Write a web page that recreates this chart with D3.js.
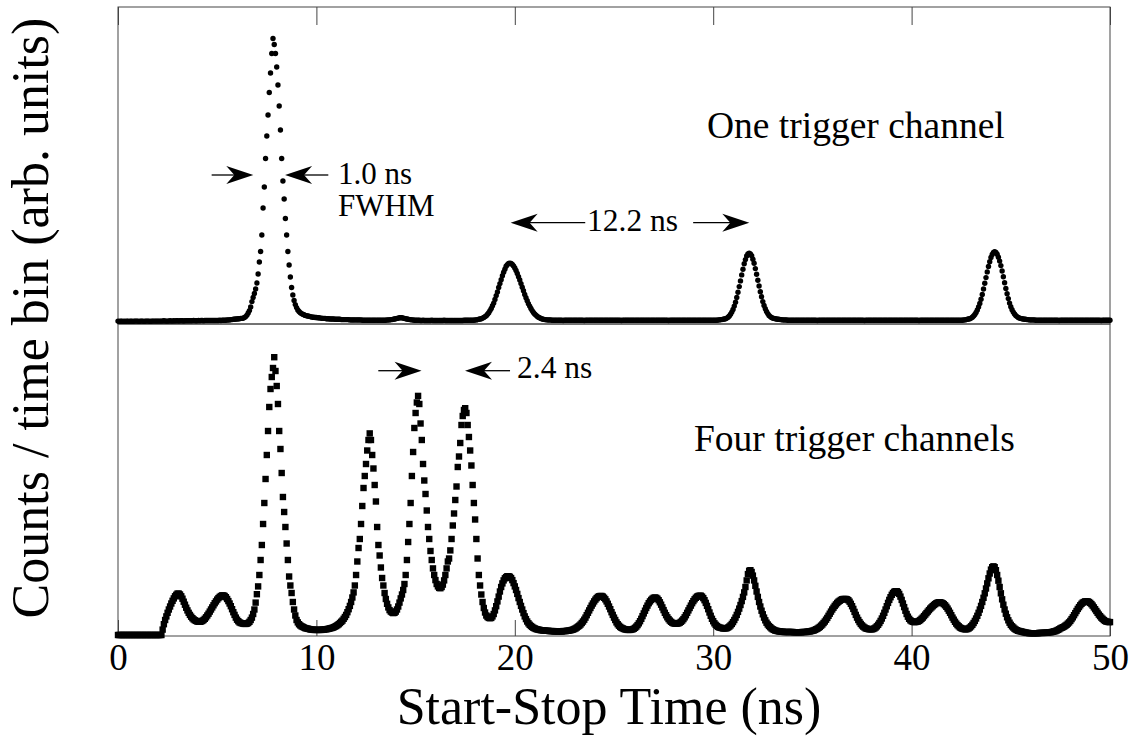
<!DOCTYPE html>
<html>
<head>
<meta charset="utf-8">
<script src="https://cdn.jsdelivr.net/npm/d3@7"></script>
<style>
  body { margin: 0; background: #fff; }
  svg { display: block; }
  text { font-family: "Liberation Serif", "Times New Roman", serif; fill: #000; }
</style>
</head>
<body>
<svg id="chart" width="1132" height="749"></svg>
<script>
// ---------------- data ----------------
const xTicks = [0, 10, 20, 30, 40, 50];
const xTickLabels = ["0", "10", "20", "30", "40", "50"];
const xLabel = "Start-Stop Time (ns)";
const yLabel = "Counts / time bin (arb. units)";
const binWidth = 0.0625; // ns per time bin; each row below holds 1 ns (16 bins)

// One trigger channel (top panel), counts per bin
const oneChannelCounts = [
  [3,2,3,3,2,3,2,3,3,2,3,3,2,3,3,3],
  [3,2,3,3,3,2,3,3,3,3,2,3,3,3,3,3],
  [3,3,3,3,3,4,3,3,3,3,4,3,3,4,3,4],
  [4,3,4,4,4,3,4,4,4,4,4,4,4,5,4,4],
  [4,5,4,5,5,4,5,5,5,5,5,5,5,5,5,5],
  [5,5,6,5,6,6,6,6,7,7,7,8,8,9,9,10],
  [10,11,11,12,12,13,15,18,23,30,38,50,68,82,95,110],
  [130,160,200,235,290,380,450,545,620,690,765,830,895,945,925,895],
  [850,790,720,640,545,470,410,345,290,235,190,150,115,90,72,58],
  [48,40,35,31,28,26,24,22,21,20,19,18,17,16,16,15],
  [15,14,14,13,13,12,12,12,11,11,11,10,10,10,10,9],
  [9,9,9,9,8,8,8,8,8,8,8,7,7,7,7,7],
  [7,7,7,7,7,6,6,6,6,6,6,6,6,6,6,6],
  [6,6,6,6,6,6,6,6,6,7,7,7,8,8,9,10],
  [11,12,13,14,14,14,13,12,11,10,9,8,8,7,7,6],
  [6,6,6,6,5,5,6,5,5,5,5,5,5,6,5,5],
  [5,5,5,5,5,5,5,6,5,5,5,5,5,5,5,5],
  [5,5,5,5,5,5,5,6,6,6,6,6,6,6,6,6],
  [7,7,8,9,10,11,13,15,18,21,26,31,38,45,54,63],
  [75,88,100,115,128,141,154,166,176,186,191,195,196,195,192,187],
  [180,172,162,151,140,128,116,104,92,81,71,61,53,45,38,32],
  [27,23,19,16,14,12,10,9,8,8,7,7,7,7,6,6],
  [6,6,6,6,6,6,6,5,6,6,6,6,6,6,6,6],
  [6,6,6,6,6,6,6,6,5,6,6,6,6,6,6,6],
  [6,6,6,6,6,6,6,6,6,6,6,6,6,6,6,6],
  [6,6,6,6,6,6,5,6,6,6,6,6,6,6,6,6],
  [6,6,6,6,6,6,6,6,6,6,6,6,6,6,6,6],
  [6,6,6,6,6,6,6,6,6,6,6,6,5,6,6,6],
  [6,6,6,6,6,6,6,6,6,6,6,6,6,6,6,6],
  [6,6,6,6,6,6,6,6,6,6,6,6,6,6,6,6],
  [6,6,6,6,7,7,8,8,9,10,11,13,16,20,26,33],
  [42,53,66,82,99,118,137,157,176,194,208,220,227,229,227,221],
  [209,196,178,159,139,120,101,84,68,55,44,35,28,22,18,15],
  [13,12,11,10,9,9,8,8,7,7,7,7,6,6,6,6],
  [6,6,6,6,6,6,6,6,6,6,6,6,6,6,6,6],
  [6,6,6,6,5,6,6,6,6,6,6,6,6,6,6,6],
  [6,6,6,6,6,6,6,6,6,6,6,6,6,6,6,6],
  [6,6,6,6,6,6,6,6,6,6,5,6,6,6,6,6],
  [6,6,6,6,6,6,6,6,6,6,6,6,6,6,6,6],
  [6,6,6,6,6,6,6,6,6,6,6,6,6,6,6,6],
  [6,6,6,6,6,6,5,6,6,6,6,6,6,6,6,6],
  [6,6,6,6,6,6,6,6,6,6,6,6,6,6,6,6],
  [6,6,6,6,6,6,6,6,6,6,7,7,8,9,10,11],
  [13,16,20,25,32,40,50,62,76,92,110,129,148,167,185,201],
  [215,225,232,234,232,226,216,203,188,170,151,131,112,94,78,63],
  [51,41,33,27,22,18,15,13,12,11,10,9,9,8,8,7],
  [7,7,7,7,6,6,6,6,6,6,6,6,6,6,6,6],
  [6,6,6,6,6,6,6,5,6,6,6,6,6,6,6,6],
  [6,6,6,6,6,6,6,6,6,6,6,6,6,6,6,6],
  [6,6,6,6,6,6,6,6,6,5,6,6,6,6,6,6],
  [6]
];

// Four trigger channels (bottom panel), counts per bin
const fourChannelCounts = [
  [0,0,0,0,0,0,0,0,0,0,0,0,0,0,0,0],
  [0,0,0,0,0,0,0,0,0,0,0,0,0,0,0,0],
  [0,0,0,0,18,36,50,62,74,85,95,105,114,122,129,134],
  [138,138,135,129,121,111,101,91,82,74,67,61,56,52,49,47],
  [45,44,44,45,47,50,54,59,65,71,78,85,92,99,106,112],
  [118,123,127,130,132,132,130,126,120,113,105,96,86,76,67,58],
  [51,46,42,40,39,38,37,37,38,40,44,50,58,70,85,108],
  [136,162,200,250,300,370,440,520,600,680,760,820,860,890,926,880],
  [830,770,680,620,540,460,410,360,305,250,195,165,140,110,85,65],
  [50,42,36,32,29,27,25,23,22,21,20,19,18,18,17,17],
  [17,17,17,17,17,18,18,19,19,20,21,22,23,24,26,28],
  [30,33,36,40,44,48,54,60,67,76,86,97,110,125,142,165],
  [200,245,290,320,370,430,490,530,570,615,650,672,650,600,555,500],
  [445,360,300,265,225,190,165,140,120,104,92,83,78,75,73,74],
  [78,85,95,108,122,135,150,170,200,250,310,370,440,530,610,690],
  [740,775,797,770,705,650,570,515,470,415,360,320,280,250,222,200],
  [183,170,162,157,156,160,168,182,200,222,245,255,282,320,365,405],
  [450,495,560,595,640,700,730,750,756,740,700,660,615,565,500,440],
  [385,320,255,200,165,135,110,90,75,65,60,57,56,57,62,70],
  [82,96,112,128,145,160,172,182,189,193,196,196,194,190,183,173],
  [162,150,137,123,110,97,85,73,62,53,45,39,34,30,27,24],
  [22,20,19,18,17,16,16,15,15,14,14,14,13,13,13,13],
  [12,12,12,12,12,12,12,13,13,13,14,14,15,16,17,18],
  [20,22,25,28,31,35,40,45,51,58,66,74,82,90,98,105],
  [112,118,123,127,129,130,130,128,124,119,112,104,95,86,76,67],
  [58,50,42,36,31,27,24,22,20,19,18,17,17,17,18,19],
  [21,24,28,33,39,46,54,63,72,81,90,98,106,112,117,121],
  [124,125,124,121,116,109,101,92,83,74,66,59,53,48,44,41],
  [39,38,38,38,39,41,44,48,53,59,66,74,82,90,98,106],
  [113,119,124,128,130,131,131,128,123,116,107,97,86,75,64,54],
  [46,39,34,30,27,25,24,23,22,22,22,23,25,28,32,37],
  [43,50,58,67,77,88,100,113,127,142,160,182,203,214,216,210],
  [198,182,164,145,127,110,95,81,69,58,49,41,35,30,26,22],
  [19,17,15,14,13,12,12,11,11,10,10,10,10,10,10,10],
  [10,9,9,9,9,9,9,9,10,10,10,10,11,12,12,13],
  [14,15,17,19,21,24,27,31,35,40,45,51,57,64,71,78],
  [85,91,97,102,107,111,114,117,119,120,120,120,119,116,111,104],
  [96,87,77,67,58,50,43,37,32,28,25,22,21,20,19,19],
  [19,20,22,25,29,34,40,47,55,64,74,85,96,107,117,126],
  [134,140,144,146,146,143,137,128,117,105,93,81,70,61,54,49],
  [46,44,43,43,44,45,47,50,54,58,63,68,73,78,83,88],
  [92,96,100,103,106,108,109,109,108,106,103,99,94,88,81,74],
  [66,58,51,44,38,33,29,25,23,21,20,19,19,20,22,25],
  [29,34,40,47,55,64,74,85,97,110,124,139,155,172,189,205],
  [218,226,229,226,216,200,181,160,139,119,101,85,71,59,49,41],
  [34,29,25,21,18,16,14,13,12,11,10,9,8,7,7,6],
  [6,6,6,6,6,6,6,7,7,7,7,7,8,8,8,9],
  [9,10,11,12,13,15,17,19,22,24,26,28,31,34,38,42],
  [47,53,59,66,73,80,87,93,99,104,108,110,112,112,112,110],
  [107,103,98,92,86,80,74,68,63,58,54,50,47,45,44,43],
  [43]
];

// Panel labels and annotation texts
const panelLabels = ["One trigger channel", "Four trigger channels"];
const fwhmText = ["1.0 ns", "FWHM"];
const periodText = "12.2 ns";
const spacingText = "2.4 ns";

// ---------------- layout ----------------
const FONT = '"Liberation Serif", "Times New Roman", serif';
const svg = d3.select("#chart");
const L = 118, R = 1110;
const topY0 = 7, midY = 324, botY1 = 636;

const x = d3.scaleLinear().domain([0, 50]).range([L, R]);
const yTop = d3.scaleLinear().domain([-6.67, 1050]).range([midY, topY0]);
const yBot = d3.scaleLinear().domain([-3.33, 1036.67]).range([botY1, midY]);

const flatten = rows => rows.flatMap((row, r) => row.map((c, j) => ({ t: r + j * binWidth, c })));
const topData = flatten(oneChannelCounts);
const botData = flatten(fourChannelCounts);

const frameColor = "#444";

// frames
svg.append("rect").attr("x", L).attr("y", topY0).attr("width", R - L).attr("height", midY - topY0)
  .attr("fill", "none").attr("stroke", frameColor).attr("stroke-width", 1);
svg.append("rect").attr("x", L).attr("y", midY).attr("width", R - L).attr("height", botY1 - midY)
  .attr("fill", "none").attr("stroke", frameColor).attr("stroke-width", 1);

// bottom axis with inward ticks and labels
const xAxis = d3.axisBottom(x).tickValues(xTicks)
  .tickFormat((d, i) => xTickLabels[i]).tickSize(-16).tickPadding(8);
const gx = svg.append("g").attr("transform", `translate(0,${botY1})`).call(xAxis);
gx.attr("font-family", null).attr("font-size", null);
gx.select(".domain").remove();
gx.selectAll(".tick line").attr("stroke", frameColor);
gx.selectAll(".tick text").style("font-family", FONT).style("font-size", "37px").attr("fill", "#000");

// top axis: inward ticks, no labels
const xAxisTop = d3.axisTop(x).tickValues(xTicks).tickFormat("").tickSize(-18);
const gxt = svg.append("g").attr("transform", `translate(0,${topY0})`).call(xAxisTop);
gxt.select(".domain").remove();
gxt.selectAll(".tick line").attr("stroke", frameColor);

// axis titles
svg.append("text").attr("x", 609).attr("y", 724).attr("text-anchor", "middle")
  .style("font-family", FONT).style("font-size", "52px").text(xLabel);
svg.append("text").attr("transform", `translate(48,318) rotate(-90)`).attr("text-anchor", "middle")
  .style("font-family", FONT).style("font-size", "52px").text(yLabel);

// data: top = dots, bottom = squares
svg.append("g").selectAll("circle").data(topData).join("circle")
  .attr("cx", d => x(d.t)).attr("cy", d => yTop(d.c)).attr("r", 2.7).attr("fill", "#000");
const sq = 6.4;
svg.append("g").selectAll("rect").data(botData).join("rect")
  .attr("x", d => x(d.t) - sq / 2).attr("y", d => yBot(d.c) - sq / 2)
  .attr("width", sq).attr("height", sq).attr("fill", "#000");

// arrows: from tail (ns) to tip (ns)
function arrow(tTail, tTip, y) {
  const x0 = x(tTail), x1 = x(tTip);
  const dir = Math.sign(x1 - x0);
  const g = svg.append("g");
  g.append("line").attr("x1", x0).attr("x2", x1 - dir * 18).attr("y1", y).attr("y2", y)
    .attr("stroke", "#000").attr("stroke-width", 1.3);
  g.append("path")
    .attr("d", `M${x1},${y} L${x1 - dir * 27},${y - 9} L${x1 - dir * 19},${y} L${x1 - dir * 27},${y + 9} Z`)
    .attr("fill", "#000");
}
// FWHM arrows
arrow(4.72, 6.82, 175);
arrow(10.6, 8.42, 175);
// 12.2 ns period arrows
arrow(23.55, 19.79, 222.7);
arrow(28.99, 31.82, 222.7);
// 2.4 ns spacing arrows
arrow(13.12, 15.3, 370.7);
arrow(19.76, 17.49, 370.7);

// annotation texts
function label(xp, yp, size, str) {
  svg.append("text").attr("x", xp).attr("y", yp)
    .style("font-family", FONT).style("font-size", size + "px").text(str);
}
label(338, 184, 31, fwhmText[0]);
label(338, 216, 31, fwhmText[1]);
label(587, 231, 31.5, periodText);
label(517, 378, 31.5, spacingText);
label(707, 138, 37.5, panelLabels[0]);
label(694, 451, 37.5, panelLabels[1]);
</script>
</body>
</html>
